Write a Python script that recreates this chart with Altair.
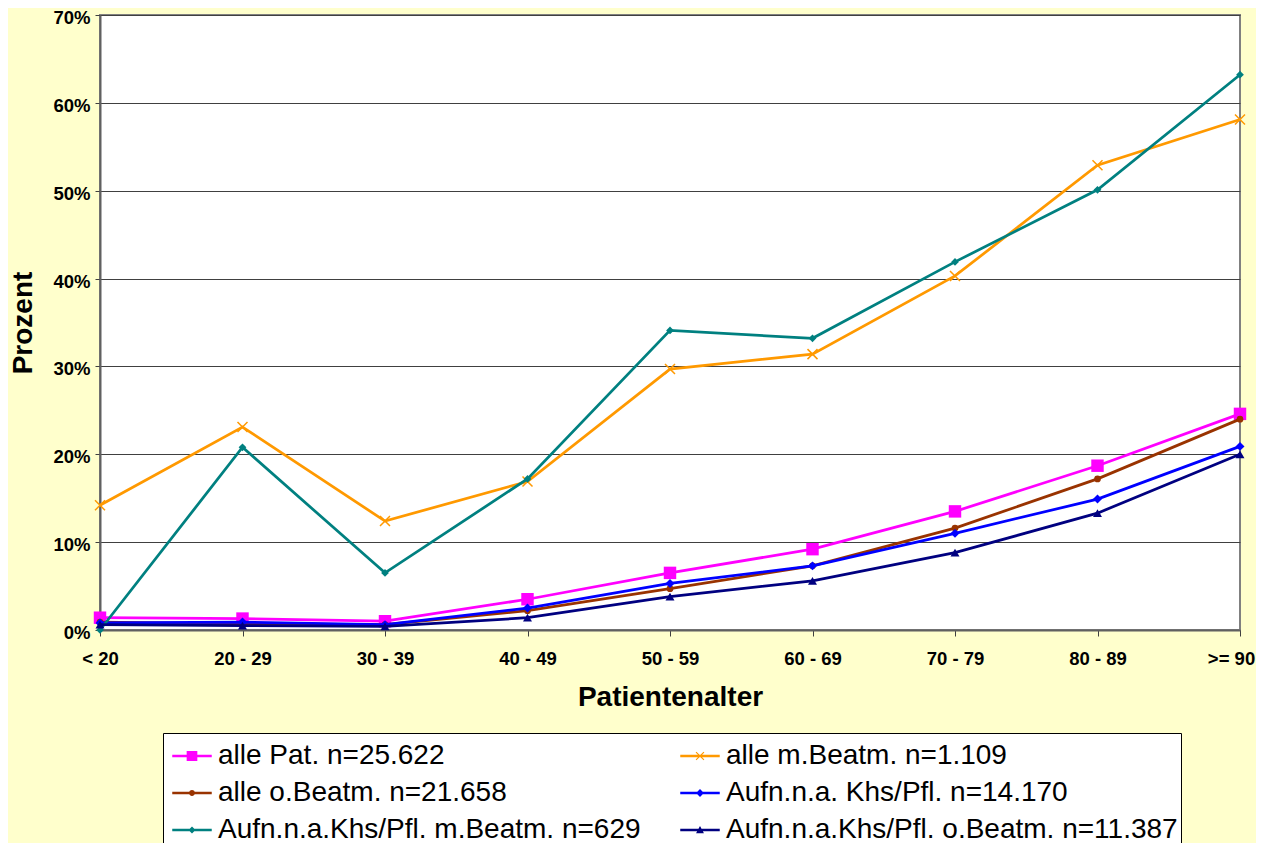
import altair as alt
import pandas as pd

# ---- data ----
categories = ["< 20", "20 - 29", "30 - 39", "40 - 49", "50 - 59",
              "60 - 69", "70 - 79", "80 - 89", ">= 90"]

series_names = [
    "alle Pat. n=25.622",
    "alle m.Beatm. n=1.109",
    "alle o.Beatm. n=21.658",
    "Aufn.n.a. Khs/Pfl. n=14.170",
    "Aufn.n.a.Khs/Pfl. m.Beatm. n=629",
    "Aufn.n.a.Khs/Pfl. o.Beatm. n=11.387",
]

alle_pat = [1.4, 1.3, 1.0, 3.5, 6.5, 9.2, 13.5, 18.7, 24.6]
alle_m_beatm = [14.2, 23.1, 12.4, 16.9, 29.7, 31.4, 40.3, 52.9, 58.1]
alle_o_beatm = [0.9, 0.7, 0.6, 2.2, 4.7, 7.3, 11.6, 17.2, 24.0]
aufn_khs = [0.8, 0.9, 0.6, 2.5, 5.3, 7.3, 11.0, 14.9, 20.9]
aufn_m_beatm = [0.0, 20.8, 6.5, 17.2, 34.1, 33.2, 41.9, 50.1, 63.2]
aufn_o_beatm = [0.6, 0.5, 0.4, 1.4, 3.8, 5.6, 8.8, 13.3, 20.0]

series_values = [alle_pat, alle_m_beatm, alle_o_beatm, aufn_khs, aufn_m_beatm, aufn_o_beatm]

colors = ["#FF00FF", "#FF9900", "#993300", "#0000FF", "#008080", "#000080"]
y_ticks = [0, 0.1, 0.2, 0.3, 0.4, 0.5, 0.6, 0.7]

rows = []
for name, vals in zip(series_names, series_values):
    for cat, v in zip(categories, vals):
        rows.append({"Altersgruppe": cat, "Serie": name, "Wert": v / 100.0})
df = pd.DataFrame(rows)

# ---- marker styles ----
XMARK = "M-1,-1L1,1M1,-1L-1,1"
markers = [
    dict(shape="square", size=155, filled=True),
    dict(shape=XMARK, size=100, filled=False, strokeWidth=1.5),
    dict(shape="circle", size=45, filled=True),
    dict(shape="diamond", size=80, filled=True),
    dict(shape="diamond", size=60, filled=True),
    dict(shape="triangle-up", size=80, filled=True),
]

# legend symbols: line + marker (normalised [-1,1] paths)
LINE = "M-1,-0.065V0.065H1V-0.065Z"
XBARS = ("M-0.221,-0.179L0.179,0.221L0.221,0.179L-0.179,-0.221Z"
         "M-0.179,0.221L0.221,-0.179L0.179,-0.221L-0.221,0.179Z")
legend_paths = [
    LINE + "M-0.27,-0.25V0.25H0.27V-0.25Z",
    LINE + XBARS,
    LINE + "M0.15,0A0.15,0.15 0 1,0 -0.15,0A0.15,0.15 0 1,0 0.15,0Z",
    LINE + "M0,-0.2L-0.2,0L0,0.2L0.2,0Z",
    LINE + "M0,-0.18L-0.18,0L0,0.18L0.18,0Z",
    LINE + "M0,-0.2L-0.2,0.17L0.2,0.17Z",
]

X = alt.X(
    "Altersgruppe:N",
    sort=categories,
    scale=alt.Scale(type="point", padding=0),
    axis=alt.Axis(title="Patientenalter", labelAngle=0, grid=False,
                  tickSize=6, labelPadding=13, titlePadding=16,
                  labelOffset=alt.ExprRef("datum.value == '>= 90' ? -9 : 0")),
)
Y = alt.Y(
    "Wert:Q",
    scale=alt.Scale(domain=[0, 0.7], nice=False, zero=True),
    axis=alt.Axis(title="Prozent", format=".0%", values=y_ticks, grid=True,
                  tickSize=5, labelPadding=5, titlePadding=15, labelOffset=2.5),
)

layers = []
for name, col, mk in zip(series_names, colors, markers):
    base = alt.Chart(df).transform_filter(alt.datum.Serie == name)
    layers.append(base.mark_line(color=col, strokeWidth=2.75).encode(x=X, y=Y))
    layers.append(base.mark_point(color=col, opacity=1, **mk).encode(x=X, y=Y))

legend_layer = alt.Chart(df).mark_point(filled=True, opacity=0).encode(
    x=X,
    y=Y,
    color=alt.Color("Serie:N", scale=alt.Scale(domain=series_names, range=colors),
                    legend=alt.Legend(title=None)),
    shape=alt.Shape("Serie:N", scale=alt.Scale(domain=series_names, range=legend_paths),
                    legend=alt.Legend(title=None)),
)
layers.append(legend_layer)

chart = alt.layer(*layers).properties(
    width=1140,
    height=615,
    autosize=alt.AutoSizeParams(type="none"),
    padding={"left": 92, "top": 7, "right": 16, "bottom": 213},
    background="#FFFFCC",
).configure_view(
    fill="white", stroke="#808080", strokeWidth=2
).configure_axis(
    domainColor="#606060", domainWidth=2,
    tickColor="#404040", tickWidth=1,
    gridColor="#404040", gridWidth=1,
    labelFont="Liberation Sans", labelFontWeight="bold", labelFontSize=18.5,
    labelColor="black",
    titleFont="Liberation Sans", titleFontWeight="bold", titleFontSize=28,
    titleColor="black",
).configure_legend(
    orient="none", legendX=63, legendY=718,
    columns=2, direction="horizontal",
    strokeColor="black", fillColor="white", padding=3,
    labelFont="Liberation Sans", labelFontSize=28, labelColor="black",
    labelLimit=1000, labelOffset=6, symbolOffset=6,
    symbolSize=1560, symbolStrokeWidth=0, symbolOpacity=1,
    columnPadding=33, rowPadding=3,
)

chart.save("out.html", embed_options={"renderer": "svg", "actions": False})
